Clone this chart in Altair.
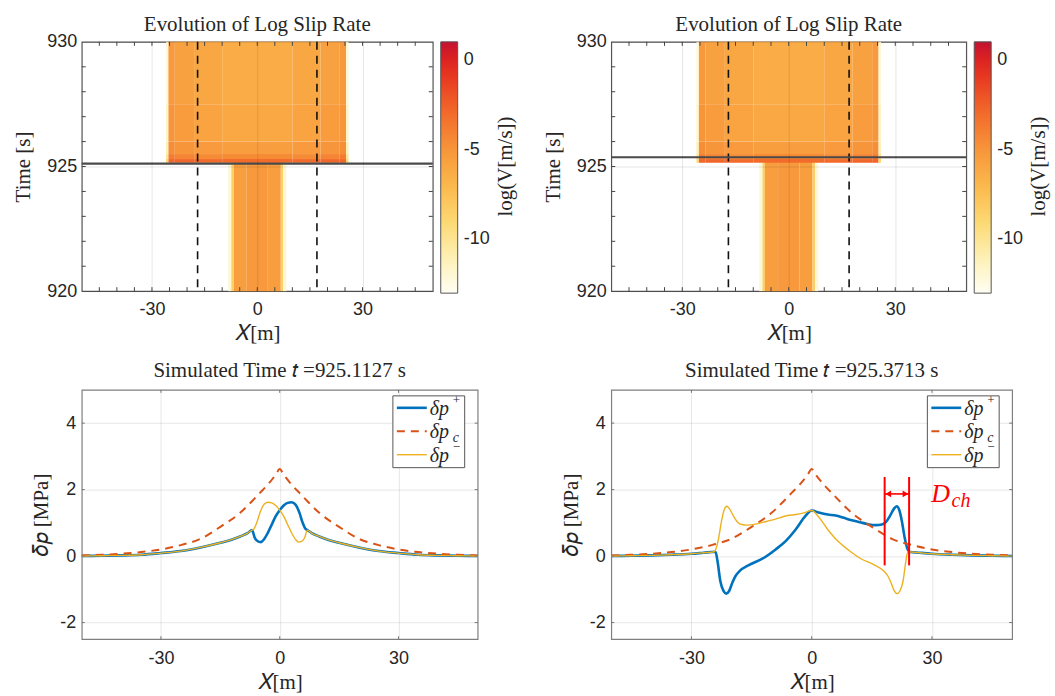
import altair as alt
import pandas as pd

# ---------------- data: top panels (log slip-rate field, rect cells) ----------------
stem_x_edges = [-8.3, -7.4, -6.7, -3.0, 3.0, 6.7, 7.4, 8.3]
stem_t_edges = [920.0, 925.2]
stem_vals = [[-12.0, -8.5, -5.5, -5.2, -5.5, -8.5, -12.0]]

block_x_edges = [-26.0, -25.3, -23.5, -18.0, -10.0, 10.0, 18.0, 23.5, 25.3, 26.0]
block_t_edges = [925.15, 925.3, 925.5, 926.0, 927.5, 930.0]
block_vals = [
    [-9.0, -2.8, -2.8, -3.0, -3.0, -3.0, -2.8, -2.8, -9.0],
    [-10.0, -3.8, -4.2, -4.5, -4.5, -4.5, -4.2, -3.8, -10.0],
    [-11.0, -4.6, -5.0, -5.3, -5.5, -5.3, -5.0, -4.6, -11.0],
    [-11.5, -5.0, -5.4, -5.8, -6.1, -5.8, -5.4, -5.0, -11.5],
    [-12.0, -5.2, -5.7, -6.0, -6.3, -6.0, -5.7, -5.2, -12.0],
]
dashed_x = [-17, 17]
event_times = [925.1127, 925.3713]
minor_x_ticks = [-45, -40, -35, -30, -25, -20, -15, -10, -5, 0, 5, 10, 15, 20, 25, 30, 35, 40, 45]
minor_t_ticks = [921, 922, 923, 924, 925, 926, 927, 928, 929]
bottom_x_ticks = [-30, 0, 30]
bottom_y_ticks = [-2, 0, 2, 4]

cmap_domain = [-13, -11, -9, -7, -5, -3, -1, 0, 1]
cmap_range = ["#fffef4", "#fdf0b4", "#fcd872", "#fbb84c", "#f7953a",
              "#f26b2b", "#e73a21", "#dc2321", "#c41230"]
cbar_ticks = [0, -5, -10]
cbar_title = "log(V[m/s])"

# ---------------- data: bottom panels (pressure change profiles) ----------------
pc_x = [-50, -45, -40, -35, -30, -25, -20, -15, -10, -7, -5, -3, -1, 0,
        1, 3, 5, 7, 10, 15, 20, 25, 30, 35, 40, 45, 50]
pc_y = [0.02, 0.04, 0.07, 0.12, 0.2, 0.33, 0.52, 0.88, 1.3, 1.65, 1.9, 2.15, 2.45, 2.62,
        2.45, 2.15, 1.9, 1.65, 1.3, 0.88, 0.52, 0.33, 0.2, 0.12, 0.07, 0.04, 0.02]

l_plus_x = [-50, -45, -40, -35, -30, -25, -20, -15, -12, -10, -8, -7, -6.3, -5.5, -4.8, -4,
            -3, -2, -1, 0, 1, 2, 3, 4, 5, 5.8, 6.5, 7, 8, 10, 12, 15, 20, 25, 30, 35, 40, 45, 50]
l_plus_y = [0, 0.01, 0.02, 0.04, 0.09, 0.15, 0.26, 0.4, 0.5, 0.59, 0.7, 0.78, 0.55, 0.44, 0.42, 0.5,
            0.7, 0.95, 1.2, 1.38, 1.52, 1.6, 1.62, 1.55, 1.3, 1.0, 0.82, 0.78, 0.7, 0.59, 0.5, 0.4,
            0.26, 0.15, 0.09, 0.04, 0.02, 0.01, 0]
l_minus_x = [-50, -45, -40, -35, -30, -25, -20, -15, -12, -10, -8, -7, -6.5, -5.8, -5, -4,
             -3, -2, -1, 0, 1, 2, 3, 4, 4.8, 5.5, 6.3, 7, 8, 10, 12, 15, 20, 25, 30, 35, 40, 45, 50]
l_minus_y = [0, 0.01, 0.02, 0.04, 0.09, 0.15, 0.26, 0.4, 0.5, 0.59, 0.7, 0.78, 0.82, 1.0, 1.3, 1.55,
             1.62, 1.6, 1.52, 1.38, 1.2, 0.95, 0.7, 0.5, 0.42, 0.44, 0.55, 0.78, 0.7, 0.59, 0.5, 0.4,
             0.26, 0.15, 0.09, 0.04, 0.02, 0.01, 0]

r_plus_x = [-50, -45, -40, -35, -30, -27, -24, -23.5, -22.8, -22, -21.3, -20.6, -19.8, -19, -18,
            -15.7, -12.3, -9, -6.5, -4, -1.6, 0, 2, 4, 6, 8, 10, 12, 14, 16, 17.5, 18.5, 19.5,
            20.5, 21.2, 21.8, 22.5, 23.2, 23.8, 24.3, 27, 30, 35, 40, 45, 50]
r_plus_y = [0, 0.01, 0.02, 0.04, 0.07, 0.1, 0.13, -0.15, -0.75, -1.05, -1.13, -1.05, -0.8, -0.6, -0.45,
            -0.27, -0.08, 0.2, 0.45, 0.8, 1.2, 1.37, 1.3, 1.25, 1.22, 1.15, 1.08, 1.02, 0.96, 0.93, 0.95,
            1.02, 1.2, 1.42, 1.5, 1.4, 1.05, 0.55, 0.25, 0.13, 0.1, 0.07, 0.04, 0.02, 0.01, 0]
r_minus_x = [-50, -45, -40, -35, -30, -27, -24.3, -23.8, -23.2, -22.5, -21.8, -21.2, -20.5, -19.5,
             -18.5, -17.5, -16, -14, -12, -10, -8, -6, -4, -2, 0, 1.6, 4, 6.5, 9, 12.3, 15.7, 18,
             19, 19.8, 20.6, 21.3, 22, 22.8, 23.5, 24, 27, 30, 35, 40, 45, 50]
r_minus_y = [0, 0.01, 0.02, 0.04, 0.07, 0.1, 0.13, 0.25, 0.55, 1.05, 1.4, 1.5, 1.42, 1.2,
             1.02, 0.95, 0.93, 0.96, 1.02, 1.08, 1.15, 1.22, 1.25, 1.3, 1.37, 1.2, 0.8, 0.45, 0.2,
             -0.08, -0.27, -0.45, -0.6, -0.8, -1.05, -1.13, -1.05, -0.75, -0.15, 0.13, 0.1, 0.07,
             0.04, 0.02, 0.01, 0]

series_main = ["δp", "δp", "δp"]
series_sup = ["+", "", "−"]
series_sub = ["", "c", ""]
series_colors = ["#0072BD", "#D95319", "#EDB120"]
series_widths = [2.6, 2.0, 1.4]

dch_lines_x = [18.2, 24.3]
dch_y_range = [-0.28, 2.38]
dch_arrow_y = 1.87
dch_label = ["D", "ch"]

titles_top = ["Evolution of Log Slip Rate", "Evolution of Log Slip Rate"]
titles_bottom = ["Simulated Time 𝑡 =925.1127 s", "Simulated Time 𝑡 =925.3713 s"]

SERIF = "Liberation Serif"
SANS = "Liberation Sans"
HYPHEN = "replace(datum.label, '\u2212', '-')"

# ---------------- build rect table ----------------
rows = []
for j, vals in enumerate(stem_vals):
    for i, v in enumerate(vals):
        rows.append(dict(x1=stem_x_edges[i], x2=stem_x_edges[i + 1],
                         t1=stem_t_edges[j], t2=stem_t_edges[j + 1], v=v))
for j, vals in enumerate(block_vals):
    for i, v in enumerate(vals):
        rows.append(dict(x1=block_x_edges[i], x2=block_x_edges[i + 1],
                         t1=block_t_edges[j], t2=block_t_edges[j + 1], v=v))
heat_df = pd.DataFrame(rows)

cscale = alt.Scale(domain=cmap_domain, range=cmap_range, interpolate="rgb")
xscale = alt.Scale(domain=[-50, 50], nice=False, zero=False)
one = pd.DataFrame({"a": [0]})


def inner_ticks(xt, yt, width, height, length, color):
    xdf = pd.DataFrame({"x": xt})
    ydf = pd.DataFrame({"y": yt})
    kw = dict(color=color, strokeWidth=1)
    return [
        alt.Chart(xdf).mark_rule(**kw).encode(x="x:Q", y=alt.value(height - length),
                                              y2=alt.value(height)),
        alt.Chart(xdf).mark_rule(**kw).encode(x="x:Q", y=alt.value(0), y2=alt.value(length)),
        alt.Chart(ydf).mark_rule(**kw).encode(y="y:Q", x=alt.value(0), x2=alt.value(length)),
        alt.Chart(ydf).mark_rule(**kw).encode(y="y:Q", x=alt.value(width - length),
                                              x2=alt.value(width)),
    ]


def top_panel(t_event, title, width):
    base = alt.Chart(heat_df)
    heat = base.mark_rect().encode(
        x=alt.X("x1:Q", scale=xscale,
                axis=alt.Axis(values=[-30, 0, 30], title="𝑋[m]", zindex=1, labelExpr=HYPHEN,
                              labelPadding=9, titlePadding=4)),
        x2="x2:Q",
        y=alt.Y("t1:Q", scale=alt.Scale(domain=[920, 930], nice=False, zero=False),
                axis=alt.Axis(values=[920, 925, 930], title="Time [s]", zindex=1,
                              labelPadding=5, titlePadding=13)),
        y2="t2:Q",
        color=alt.Color("v:Q", scale=cscale, legend=alt.Legend(
            type="gradient", title=None, orient="right", direction="vertical",
            values=cbar_ticks, gradientLength=252, gradientThickness=17,
            gradientStrokeColor="#555", gradientStrokeWidth=1, offset=8,
            labelFont=SANS, labelFontSize=18, labelColor="#262626", labelOffset=6,
            labelExpr=HYPHEN)),
    )
    dash = alt.Chart(pd.DataFrame({"x": dashed_x})).mark_rule(
        color="#111", strokeWidth=1.6, strokeDash=[8, 6]).encode(x="x:Q")
    ev = alt.Chart(pd.DataFrame({"t": [t_event]})).mark_rule(
        color="#4a4a4a", strokeWidth=2.2).encode(y="t:Q")
    ctitle = alt.Chart(one).mark_text(
        angle=270, align="center", baseline="middle", font=SERIF, fontSize=21,
        color="#262626").encode(x=alt.value(width + 73), y=alt.value(125),
                                text=alt.value(cbar_title))
    ticks = inner_ticks(minor_x_ticks, minor_t_ticks, width, 250, 4, "#444")
    return alt.layer(heat, dash, ev, *ticks, ctitle).properties(
        width=width, height=250,
        title=alt.TitleParams(title, font=SERIF, fontSize=21, fontWeight="normal",
                              color="#262626", offset=-2))


def line_layer(xs, ys, color, width, dash=None):
    df = pd.DataFrame({"x": xs, "y": ys})
    kw = dict(color=color, strokeWidth=width, interpolate="monotone")
    if dash:
        kw["strokeDash"] = dash
    return alt.Chart(df).mark_line(**kw).encode(
        x=alt.X("x:Q", scale=xscale,
                axis=alt.Axis(values=[-30, 0, 30], title="𝑋[m]", labelPadding=10, titlePadding=4,
                              labelExpr=HYPHEN)),
        y=alt.Y("y:Q", scale=alt.Scale(domain=[-2.5, 5], nice=False, zero=False),
                axis=alt.Axis(values=[-2, 0, 2, 4], title="𝛿𝑝 [MPa]", labelPadding=6,
                              titlePadding=8, labelExpr=HYPHEN)),
    )


def legend_layers(width):
    x0 = width - 85
    layers = [alt.Chart(one).mark_rect(fill="white", stroke="#555", strokeWidth=1).encode(
        x=alt.value(x0), x2=alt.value(x0 + 72), y=alt.value(6), y2=alt.value(78))]
    for i in range(3):
        yy = 18 + 23.5 * i
        kw = dict(color=series_colors[i], strokeWidth=series_widths[i])
        if i == 1:
            kw["strokeDash"] = [8, 6]
        layers.append(alt.Chart(one).mark_rule(**kw).encode(
            x=alt.value(x0 + 4), x2=alt.value(x0 + 34), y=alt.value(yy)))
        layers.append(alt.Chart(one).mark_text(
            align="left", baseline="middle", font=SERIF, fontStyle="italic", fontSize=20,
            color="#262626").encode(x=alt.value(x0 + 37), y=alt.value(yy + 1),
                                    text=alt.value(series_main[i])))
        if series_sup[i]:
            layers.append(alt.Chart(one).mark_text(
                align="left", baseline="middle", font=SERIF, fontSize=13,
                color="#262626").encode(x=alt.value(x0 + 60), y=alt.value(yy - 8),
                                        text=alt.value(series_sup[i])))
        if series_sub[i]:
            layers.append(alt.Chart(one).mark_text(
                align="left", baseline="middle", font=SERIF, fontStyle="italic", fontSize=14,
                color="#262626").encode(x=alt.value(x0 + 60), y=alt.value(yy + 7),
                                        text=alt.value(series_sub[i])))
    return layers


def bottom_panel(px, py, mx, my, title, width, annot=False):
    layers = [
        line_layer(px, py, series_colors[0], series_widths[0]),
        line_layer(pc_x, pc_y, series_colors[1], series_widths[1], dash=[8, 6]),
        line_layer(mx, my, series_colors[2], series_widths[2]),
    ]
    layers += inner_ticks(bottom_x_ticks, bottom_y_ticks, width, 250, 3, "#777")
    if annot:
        vdf = pd.DataFrame({"x": dch_lines_x, "y1": [dch_y_range[0]] * 2,
                            "y2": [dch_y_range[1]] * 2})
        layers.append(alt.Chart(vdf).mark_rule(color="#ff0000", strokeWidth=2).encode(
            x="x:Q", y="y1:Q", y2="y2:Q"))
        adf = pd.DataFrame({"x1": [dch_lines_x[0]], "x2": [dch_lines_x[1]], "y": [dch_arrow_y]})
        layers.append(alt.Chart(adf).mark_rule(color="#ff0000", strokeWidth=1.6).encode(
            x="x1:Q", x2="x2:Q", y="y:Q"))
        hdf = pd.DataFrame({"x": [dch_lines_x[0] + 0.9, dch_lines_x[1] - 0.9],
                            "y": [dch_arrow_y] * 2,
                            "s": ["triangle-left", "triangle-right"]})
        layers.append(alt.Chart(hdf).mark_point(filled=True, color="#ff0000", size=45,
                                                opacity=1).encode(
            x="x:Q", y="y:Q", shape=alt.Shape("s:N", scale=None, legend=None)))
        tdf = pd.DataFrame({"x": [29.8], "y": [1.64], "t": [dch_label[0]]})
        layers.append(alt.Chart(tdf).mark_text(align="left", baseline="alphabetic",
                                               font=SERIF, fontStyle="italic", fontSize=26,
                                               color="#ff0000").encode(x="x:Q", y="y:Q", text="t:N"))
        sdf = pd.DataFrame({"x": [34.9], "y": [1.49], "t": [dch_label[1]]})
        layers.append(alt.Chart(sdf).mark_text(align="left", baseline="alphabetic",
                                               font=SERIF, fontStyle="italic", fontSize=20,
                                               color="#ff0000").encode(x="x:Q", y="y:Q", text="t:N"))
    layers += legend_layers(width)
    return alt.layer(*layers).properties(
        width=width, height=250,
        view=alt.ViewBackground(stroke="#7f7f7f", strokeWidth=1.2),
        title=alt.TitleParams(title, font=SERIF, fontSize=21, fontWeight="normal",
                              color="#262626", offset=8))


tl = top_panel(event_times[0], titles_top[0], 352)
tr = top_panel(event_times[1], titles_top[1], 356)
bl = bottom_panel(l_plus_x, l_plus_y, l_minus_x, l_minus_y, titles_bottom[0], 397)
br = bottom_panel(r_plus_x, r_plus_y, r_minus_x, r_minus_y, titles_bottom[1], 402, annot=True)

chart = alt.concat(tl, tr, bl, br, columns=2, spacing={"row": 99, "column": 129},
                   bounds="flush", align="all").resolve_scale(
    color="independent", x="independent", y="independent").properties(
    padding={"left": 12, "top": 12, "right": 5, "bottom": 2},
    background="white",
).configure_view(stroke="#555555", strokeWidth=1.2).configure_axis(
    labelFont=SANS, labelFontSize=18, labelColor="#262626",
    titleFont=SERIF, titleFontSize=21, titleFontWeight="normal", titleColor="#262626",
    gridColor="black", gridOpacity=0.1, domain=False, ticks=False,
)

chart.save("out.html", embed_options={"renderer": "svg", "actions": False})
